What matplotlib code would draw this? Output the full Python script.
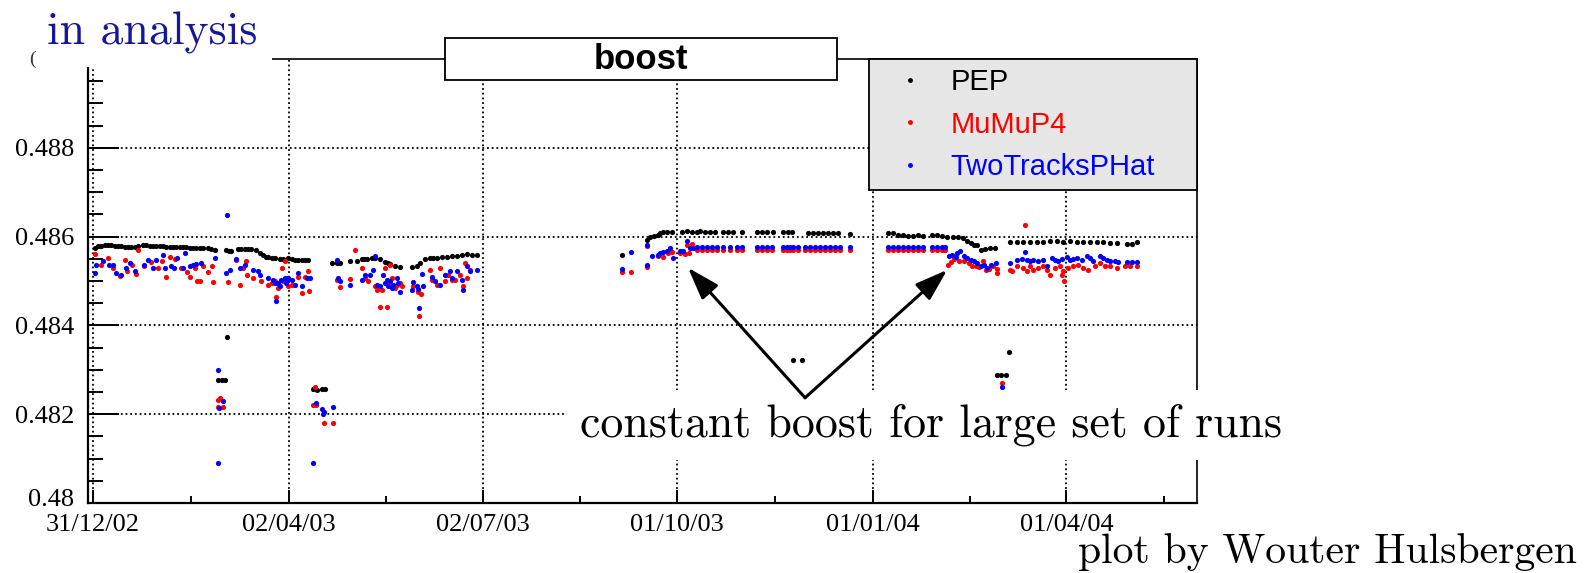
import numpy as np
import matplotlib
matplotlib.use("Agg")
import matplotlib.pyplot as plt
import matplotlib.transforms as mtransforms
from matplotlib.patches import Rectangle, FancyArrowPatch
from matplotlib.lines import Line2D
from matplotlib.ticker import FixedLocator

# x values are days after 31/12/02, y values are the boost
pep_day = [
    0.8, 2.5, 3.9, 5.5, 7.0, 8.6, 10.2, 11.8, 13.3, 14.9, 16.4, 18.0, 19.6, 21.2,
    23.5, 25.0, 26.6, 28.1, 29.7, 31.3, 32.9, 34.4, 36.0, 37.6, 39.1, 40.7, 42.3,
    43.8, 45.4, 47.0, 48.5, 50.1, 51.6, 54.0, 55.5, 57.1, 62.6, 63.8, 65.0, 68.1,
    69.6, 71.2, 72.8, 74.3, 76.7, 78.2, 79.8, 81.0, 82.2, 83.8, 85.3, 87.6, 89.0,
    90.0, 91.7, 93.3, 94.8, 96.4, 98.0, 99.5, 101.1, 112.0, 114.4, 116.0, 120.7,
    123.8, 126.1, 127.3, 128.5, 130.8, 132.4, 134.7, 137.1, 138.3, 139.4, 141.8,
    144.1, 149.6, 151.9, 153.5, 155.9, 158.2, 159.8, 161.3, 163.8, 166.1, 168.4,
    170.7, 173.1, 175.4, 177.7, 180.1,
    248.2, 259.9, 261.5, 263.5, 265.4, 266.2, 267.7, 269.3, 271.7, 276.4, 278.7,
    281.0, 283.4, 284.9, 287.2, 289.6, 291.9, 295.9, 298.3, 300.6, 304.5, 311.6,
    313.9, 316.3, 319.4, 324.1, 326.4, 328.0, 335.8, 338.2, 340.5, 342.9, 345.2,
    347.6, 349.9, 355.4,
    373.4, 375.7, 378.1, 380.4, 382.8, 385.1, 387.5, 389.8, 393.7, 396.1, 398.4,
    400.8, 403.9, 406.3, 408.6, 410.5, 412.1, 413.7, 415.2, 416.8, 418.8, 421.1,
    423.5, 430.5, 433.6, 436.8, 439.9, 443.0, 446.2, 449.3, 452.4, 455.5, 458.7,
    461.8, 464.9, 468.1, 471.2, 474.3, 477.5, 480.6, 485.3, 487.6, 490.0,
    62.8, 58.8, 60.4, 62.0, 103.4, 105.2, 107.4, 108.9, 328.8, 332.7, 430.2,
    424.3, 426.2, 428.4,
]
pep_boost = [
    0.48575, 0.48578, 0.48579, 0.48580, 0.48582, 0.48581, 0.48579, 0.48579,
    0.48578, 0.48577, 0.48577, 0.48576, 0.48577, 0.48579, 0.48582, 0.48581,
    0.48579, 0.48579, 0.48579, 0.48578, 0.48578, 0.48577, 0.48577, 0.48576,
    0.48577, 0.48577, 0.48577, 0.48576, 0.48575, 0.48575, 0.48575, 0.48574,
    0.48574, 0.48574, 0.48573, 0.48570, 0.48569, 0.48568, 0.48568, 0.48571,
    0.48572, 0.48573, 0.48572, 0.48571, 0.48569, 0.48563, 0.48558, 0.48555,
    0.48553, 0.48552, 0.48552, 0.48550, 0.48549, 0.48548, 0.48552, 0.48549,
    0.48548, 0.48548, 0.48548, 0.48548, 0.48548, 0.48540, 0.48541, 0.48541,
    0.48546, 0.48546, 0.48550, 0.48550, 0.48550, 0.48552, 0.48552, 0.48550,
    0.48543, 0.48540, 0.48538, 0.48533, 0.48531, 0.48531, 0.48533, 0.48540,
    0.48550, 0.48552, 0.48552, 0.48552, 0.48553, 0.48554, 0.48556, 0.48557,
    0.48559, 0.48561, 0.48559, 0.48559,
    0.48559, 0.48593, 0.48598, 0.48602, 0.48604, 0.48609, 0.48610, 0.48611,
    0.48610, 0.48611, 0.48612, 0.48611, 0.48611, 0.48612, 0.48611, 0.48611,
    0.48611, 0.48610, 0.48610, 0.48610, 0.48610, 0.48611, 0.48611, 0.48611,
    0.48610, 0.48611, 0.48611, 0.48610, 0.48609, 0.48609, 0.48609, 0.48609,
    0.48609, 0.48608, 0.48608, 0.48606,
    0.48609, 0.48607, 0.48604, 0.48603, 0.48602, 0.48602, 0.48604, 0.48602,
    0.48604, 0.48603, 0.48602, 0.48600, 0.48599, 0.48599, 0.48596, 0.48591,
    0.48586, 0.48582, 0.48580, 0.48570, 0.48572, 0.48574, 0.48574, 0.48587,
    0.48587, 0.48587, 0.48587, 0.48588, 0.48588, 0.48589, 0.48589, 0.48588,
    0.48589, 0.48588, 0.48588, 0.48587, 0.48587, 0.48587, 0.48586, 0.48586,
    0.48584, 0.48584, 0.48587,
    0.48375, 0.48277, 0.48277, 0.48276, 0.48256, 0.48255, 0.48256, 0.48256,
    0.48321, 0.48321, 0.48339, 0.48289, 0.48289, 0.48289,
]

# runs where both MuMuP4 and TwoTracksPHat give the same constant boost
const_day = [
    283.4, 285.7, 288.1, 290.4, 292.8, 295.9, 299.0, 302.2, 304.5, 311.6, 313.9,
    316.3, 318.6, 324.1, 325.7, 327.2, 328.8, 331.1, 334.3, 336.6, 339.0, 341.3,
    343.7, 346.0, 348.4, 350.7, 355.4, 373.4, 375.7, 378.1, 380.4, 382.8, 385.1,
    387.5, 389.8, 393.7, 396.1, 398.4, 400.0,
]
mumu_const = 0.48569
tt_const = 0.48576

mumu_day = [
    1.1, 3.9, 7.0, 9.4, 12.5, 14.9, 16.1, 18.3, 20.3, 21.1, 23.9, 27.4, 30.5,
    32.4, 34.4, 36.0, 38.7, 41.5, 44.3, 45.4, 48.0, 49.0, 50.1, 51.6, 54.0, 55.9,
    56.5, 63.4, 67.3, 68.9, 70.4, 72.0, 72.5, 75.1, 79.0, 82.2, 83.8, 85.3, 86.1,
    86.9, 88.9, 89.2, 90.0,
    91.7, 93.3, 96.4, 98.0, 99.5, 101.1, 101.4, 114.4, 116.0, 120.7, 123.1,
    126.5, 127.7, 129.3, 132.4, 133.2, 134.7, 135.5, 137.1, 137.9, 138.6, 139.4,
    140.2, 141.8, 142.6, 144.1, 144.9, 150.4, 152.7, 153.2, 154.0, 158.2, 159.0,
    161.3, 162.9, 165.3, 166.8, 168.4, 169.9, 172.3, 173.8, 174.6, 175.4, 177.0,
    248.2, 252.4, 259.9, 260.2, 265.4, 267.7, 270.1, 271.7, 275.6, 278.0, 279.1,
    280.0, 281.1,
    401.5, 402.7, 404.2, 406.6, 408.9, 411.3, 412.9, 414.4, 416.0, 417.6, 419.1,
    420.7, 422.3, 424.3, 424.6, 430.5, 431.3, 433.6, 436.8, 437.6, 438.4, 439.9,
    441.5, 443.8, 446.2, 447.7, 449.3, 451.6, 454.0, 454.8, 455.5, 455.9, 457.9,
    460.2, 462.6, 464.9, 467.3, 470.4, 472.8, 475.1, 477.5, 480.6, 484.5, 486.9,
    490.0,
    58.8, 59.5, 58.8, 61.2, 104.2, 103.4, 104.7, 108.5, 112.5, 426.6,
]
mumu_boost = [
    0.48560, 0.48535, 0.48552, 0.48529, 0.48512, 0.48548, 0.48522, 0.48535,
    0.48515, 0.48570, 0.48533, 0.48542, 0.48529, 0.48545, 0.48510, 0.48555,
    0.48550, 0.48529, 0.48520, 0.48508, 0.48529, 0.48499, 0.48499, 0.48533,
    0.48520, 0.48533, 0.48498, 0.48498, 0.48548, 0.48492, 0.48529, 0.48545,
    0.48514, 0.48507, 0.48499, 0.48492, 0.48495, 0.48499, 0.48465, 0.48484,
    0.48530, 0.48499, 0.48545,
    0.48488, 0.48492, 0.48510, 0.48473, 0.48510, 0.48522, 0.48478, 0.48503,
    0.48486, 0.48505, 0.48569, 0.48529, 0.48507, 0.48499, 0.48488, 0.48480,
    0.48441, 0.48480, 0.48529, 0.48442, 0.48495, 0.48537, 0.48507, 0.48484,
    0.48492, 0.48495, 0.48488, 0.48488, 0.48476, 0.48422, 0.48471, 0.48525,
    0.48503, 0.48492, 0.48529, 0.48499, 0.48514, 0.48503, 0.48503, 0.48514,
    0.48488, 0.48540, 0.48507, 0.48525,
    0.48520, 0.48520, 0.48578, 0.48531, 0.48556, 0.48554, 0.48563, 0.48565,
    0.48563, 0.48561, 0.48582, 0.48563, 0.48583,
    0.48537, 0.48542, 0.48549, 0.48546, 0.48544, 0.48540, 0.48533, 0.48534,
    0.48531, 0.48544, 0.48525, 0.48527, 0.48533, 0.48527, 0.48518, 0.48525,
    0.48522, 0.48533, 0.48529, 0.48627, 0.48522, 0.48533, 0.48525, 0.48529,
    0.48533, 0.48525, 0.48514, 0.48529, 0.48533, 0.48514, 0.48522, 0.48499,
    0.48529, 0.48533, 0.48537, 0.48529, 0.48525, 0.48533, 0.48540, 0.48533,
    0.48533, 0.48529, 0.48533, 0.48533, 0.48533,
    0.48232, 0.48236, 0.48216, 0.48216, 0.48262, 0.48221, 0.48221, 0.48180,
    0.48180, 0.48271,
]

tt_day = [
    1.1, 1.6, 4.7, 7.4, 9.4, 11.0, 13.3, 15.6, 17.2, 19.6, 23.9, 25.8, 28.2,
    29.7, 32.9, 34.0, 36.8, 38.0, 39.6, 42.3, 43.0, 45.4, 46.9, 48.5, 50.5, 57.4,
    62.6, 64.2, 67.3, 68.9, 71.2, 75.1, 77.5, 78.2, 82.2, 84.5, 85.3, 86.9, 87.6,
    88.4, 90.0, 90.6, 86.0,
    90.9, 91.7, 93.3, 94.8, 96.4, 98.0, 100.3, 101.9, 114.4, 115.2, 116.0,
    120.7, 126.5, 127.7, 130.1, 131.6, 132.4, 133.2, 134.7, 136.3, 137.1, 137.9,
    138.6, 139.4, 140.2, 141.0, 142.6, 143.4, 144.1, 149.6, 150.4, 151.9, 152.7,
    153.2, 154.3, 155.1, 159.0, 160.6, 162.9, 165.3, 167.6, 168.4, 170.7, 173.1,
    173.8, 175.4, 177.0, 180.1,
    248.2, 252.4, 259.9, 260.2, 262.3, 265.4, 266.2, 267.7, 269.3, 270.9, 272.1,
    275.6, 277.2, 279.1, 280.3, 281.9,
    401.9, 403.5, 405.0, 405.8, 407.1, 408.9, 410.5, 412.1, 413.7, 415.2, 416.8,
    418.4, 419.9, 421.5, 423.8, 430.5, 433.6, 436.0, 437.6, 438.4, 439.9, 441.5,
    443.8, 446.2, 447.7, 450.1, 451.6, 453.2, 454.8, 457.1, 458.7, 460.2, 461.8,
    464.2, 466.5, 468.1, 469.6, 472.8, 474.3, 475.9, 477.5, 479.8, 481.4, 485.3,
    487.6, 490.0,
    62.8, 58.8, 61.2, 59.2, 58.8, 104.7, 107.4, 108.5, 108.0, 112.5, 103.4, 426.6,
]
tt_boost = [
    0.48518, 0.48537, 0.48544, 0.48537, 0.48537, 0.48518, 0.48514, 0.48529,
    0.48540, 0.48522, 0.48537, 0.48548, 0.48530, 0.48548, 0.48559, 0.48529,
    0.48533, 0.48529, 0.48552, 0.48529, 0.48563, 0.48533, 0.48537, 0.48538,
    0.48540, 0.48552, 0.48518, 0.48525, 0.48550, 0.48529, 0.48537, 0.48525,
    0.48522, 0.48514, 0.48507, 0.48503, 0.48495, 0.48495, 0.48488, 0.48503,
    0.48507, 0.48495, 0.48454,
    0.48499, 0.48507, 0.48503, 0.48492, 0.48518, 0.48488, 0.48507, 0.48507,
    0.48548, 0.48507, 0.48499, 0.48492, 0.48503, 0.48514, 0.48514, 0.48525,
    0.48556, 0.48492, 0.48488, 0.48514, 0.48495, 0.48503, 0.48488, 0.48499,
    0.48484, 0.48492, 0.48507, 0.48495, 0.48476, 0.48480, 0.48498, 0.48488,
    0.48483, 0.48440, 0.48516, 0.48488, 0.48510, 0.48499, 0.48492, 0.48514,
    0.48522, 0.48507, 0.48522, 0.48503, 0.48480, 0.48533, 0.48522, 0.48525,
    0.48528, 0.48565, 0.48582, 0.48535, 0.48557, 0.48559, 0.48563, 0.48565,
    0.48568, 0.48574, 0.48552, 0.48568, 0.48567, 0.48591, 0.48574, 0.48574,
    0.48557, 0.48559, 0.48554, 0.48563, 0.48567, 0.48556, 0.48552, 0.48548,
    0.48544, 0.48540, 0.48533, 0.48537, 0.48529, 0.48537, 0.48540, 0.48540,
    0.48548, 0.48549, 0.48565, 0.48548, 0.48544, 0.48548, 0.48544, 0.48548,
    0.48533, 0.48552, 0.48548, 0.48544, 0.48549, 0.48554, 0.48548, 0.48549,
    0.48552, 0.48548, 0.48556, 0.48552, 0.48544, 0.48556, 0.48552, 0.48548,
    0.48544, 0.48544, 0.48542, 0.48542, 0.48542, 0.48542,
    0.48649, 0.48300, 0.48230, 0.48213, 0.48090, 0.48226, 0.48211, 0.48206,
    0.48200, 0.48217, 0.48090, 0.48261,
]

tick_days = [0, 92, 183, 274, 366, 457]
tick_labels = ["31/12/02", "02/04/03", "02/07/03", "01/10/03", "01/01/04", "01/04/04"]
minor_days = [46, 137.5, 228.5, 320, 411.5, 503]
y_ticks = [0.48, 0.482, 0.484, 0.486, 0.488]
y_labels = ["0.48", "0.482", "0.484", "0.486", "0.488"]

W, H = 1585, 573


def fx(px):
    return px / W


def fy(py):
    # pixel rows are counted from the top
    return 1 - py / H


fig = plt.figure(figsize=(W / 100, H / 100), dpi=100)
ax = fig.add_axes([fx(88), fy(503), fx(1197 - 88), (503 - 59) / H])

ax.scatter(pep_day, pep_boost, s=14, color="black", linewidths=0, zorder=3)
ax.scatter(mumu_day, mumu_boost, s=14, color="red", linewidths=0, zorder=3)
ax.scatter(const_day, [mumu_const] * len(const_day), s=14, color="red",
           linewidths=0, zorder=3)
ax.scatter(tt_day, tt_boost, s=14, color="blue", linewidths=0, zorder=4)
ax.scatter(const_day, [tt_const] * len(const_day), s=14, color="blue",
           linewidths=0, zorder=4)

ax.set_xlim(-2.35, 518.3)
ax.set_ylim(0.48, 0.49)

ax.xaxis.set_major_locator(FixedLocator(tick_days))
ax.xaxis.set_minor_locator(FixedLocator(minor_days))
ax.set_xticklabels(tick_labels, family="Liberation Serif", fontsize=19)
ax.yaxis.set_major_locator(FixedLocator(y_ticks))
ax.yaxis.set_minor_locator(FixedLocator(np.arange(0.4805, 0.49, 0.0005)))
ax.set_yticklabels(y_labels, family="Liberation Serif", fontsize=19)

ax.tick_params(axis="y", which="major", direction="in", length=22, width=1.4, pad=10)
ax.tick_params(axis="y", which="minor", direction="in", length=11, width=1.4)
ax.tick_params(axis="x", which="major", direction="in", length=9.5, width=1.4, pad=8)
ax.tick_params(axis="x", which="minor", direction="in", length=5, width=1.4)

# lift the lowest y label a little so it clears the first date label
first_label = ax.get_yticklabels()[0]
first_label.set_transform(first_label.get_transform()
                          + mtransforms.ScaledTranslation(0, 5 / 100, fig.dpi_scale_trans))

ax.grid(True, which="major", color="black", linestyle=(0, (1, 1.6)), linewidth=1.3)
ax.set_axisbelow(True)
for side in ["left", "bottom"]:
    ax.spines[side].set_linewidth(1.6)
for side in ["top", "right"]:
    ax.spines[side].set_linewidth(1.2)

legend_elements = [
    Line2D([0], [0], marker="o", color="black", lw=0, markersize=2.5, label="PEP"),
    Line2D([0], [0], marker="o", color="red", lw=0, markersize=2.5, label="MuMuP4"),
    Line2D([0], [0], marker="o", color="blue", lw=0, markersize=2.5,
           label="TwoTracksPHat"),
]
leg = ax.legend(
    handles=legend_elements,
    loc="upper right",
    borderaxespad=0,
    mode="expand",
    prop={"family": "Liberation Sans", "size": 21},
    handlelength=2.2,
    handletextpad=0.28,
    labelspacing=0.49,
    borderpad=0.32,
    fancybox=False,
    framealpha=1,
    facecolor="#e6e6e6",
    edgecolor="black",
)
leg.set_bbox_to_anchor((0.7042, 0.0, 0.2958, 1.0), transform=ax.transAxes)
leg.get_frame().set_linewidth(1.3)
for text, colour in zip(leg.get_texts(), ["black", "red", "blue"]):
    text.set_color(colour)

# white patches that cover the plot, as on the slide
fig.add_artist(Rectangle((0, fy(67)), fx(272), 67 / H, transform=fig.transFigure,
                         facecolor="white", edgecolor="none", zorder=4))
fig.add_artist(Rectangle((fx(567), fy(460)), fx(1300 - 567), 70 / H,
                         transform=fig.transFigure, facecolor="white",
                         edgecolor="none", zorder=4))
fig.add_artist(Rectangle((fx(445), fy(80)), fx(837 - 445), 42 / H,
                         transform=fig.transFigure, facecolor="white",
                         edgecolor="black", linewidth=1.3, zorder=4))

fig.text(fx(641), fy(69), "boost", ha="center", va="baseline", fontsize=25,
         fontweight="bold", family="Liberation Sans", zorder=5)
fig.text(fx(47), fy(44), "in analysis", ha="left", va="baseline", fontsize=33,
         family="cmr10", color="#16169a", zorder=5)
fig.text(fx(29), fy(64), "(", ha="left", va="baseline", fontsize=14,
         family="Liberation Serif", color="#333333", zorder=5)
fig.text(fx(580), fy(437), "constant boost for large set of runs", ha="left",
         va="baseline", fontsize=33, family="cmr10", zorder=5)
fig.text(fx(1577), fy(563), "plot by Wouter Hulsbergen", ha="right",
         va="baseline", fontsize=30, family="cmr10", zorder=5)

# arrows from the label to the two constant-boost run sets
for tip in [(279.3, 0.4853), (401.0, 0.48525)]:
    arrow = FancyArrowPatch(
        (334.3, 0.48237), tip,
        transform=ax.transData,
        arrowstyle="-|>,head_length=0.9,head_width=0.3",
        mutation_scale=22,
        linewidth=2.2,
        color="black",
        shrinkA=0,
        shrinkB=0,
        zorder=6,
    )
    fig.add_artist(arrow)

fig.savefig("out.png", dpi=100)
